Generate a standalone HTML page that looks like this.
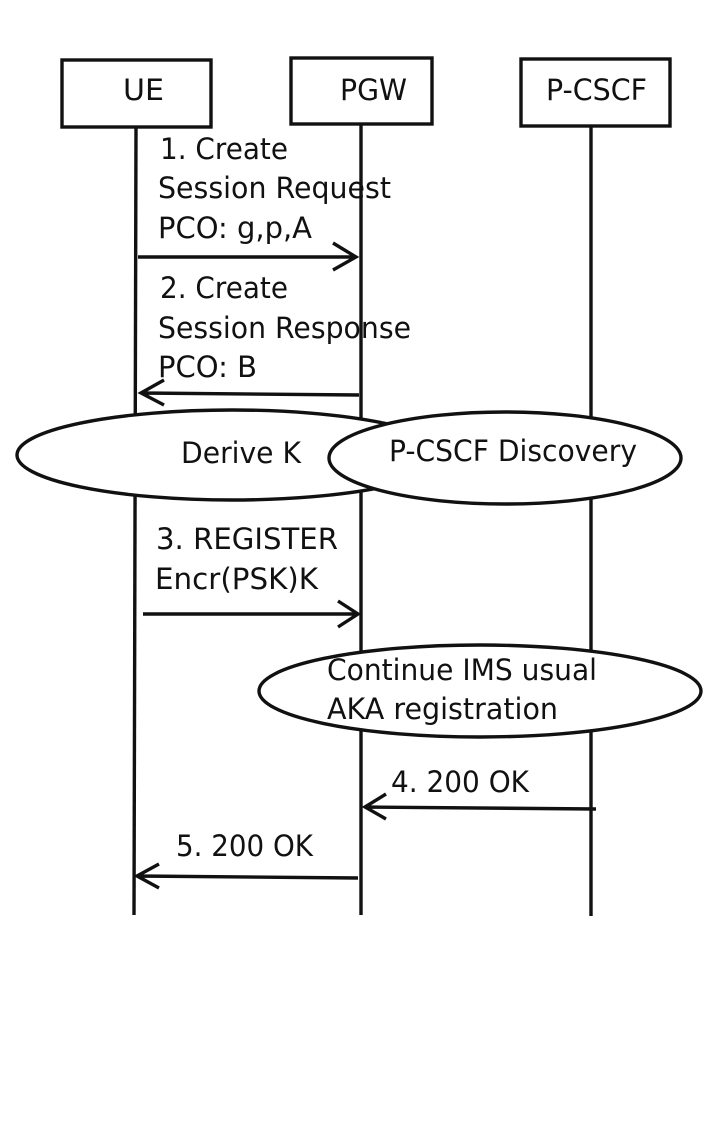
<!DOCTYPE html>
<html><head><meta charset="utf-8"><style>
html,body{margin:0;padding:0;background:#fff}
svg{display:block}
text{font-family:"DejaVu Sans","Liberation Sans",sans-serif;font-size:29px;fill:#111}
</style></head><body>
<svg width="718" height="1130" viewBox="0 0 718 1130" xmlns="http://www.w3.org/2000/svg">
<rect width="718" height="1130" fill="#fff"/>
<g fill="none" stroke="#111" stroke-width="3.4">
<line x1="136" y1="127" x2="134" y2="915"/>
<line x1="361" y1="124" x2="361" y2="915"/>
<line x1="591" y1="126" x2="591" y2="916"/>
<rect x="62" y="60" width="149" height="67" fill="#fff"/>
<rect x="291" y="58" width="141" height="66" fill="#fff"/>
<rect x="521" y="59" width="149" height="67" fill="#fff"/>
<ellipse cx="232" cy="455" rx="215" ry="45" fill="#fff"/>
<ellipse cx="505" cy="458" rx="176" ry="46" fill="#fff"/>
<ellipse cx="480" cy="691" rx="221" ry="46" fill="#fff"/>
<path d="M138 257H356M333 243L356 257L333 270"/>
<path d="M359 395L141 393M164 380L141 393L164 405"/>
<path d="M143 614H358M338 601L358 614L338 627"/>
<path d="M596 809L365 807M386 794L365 807L386 819"/>
<path d="M358 878L137 876M159 864L137 876L159 888"/>
</g>
<text x="123" y="100" textLength="41" lengthAdjust="spacingAndGlyphs">UE</text>
<text x="340" y="100" textLength="67" lengthAdjust="spacingAndGlyphs">PGW</text>
<text x="546" y="100" textLength="101" lengthAdjust="spacingAndGlyphs">P-CSCF</text>
<text x="160" y="159" textLength="128" lengthAdjust="spacingAndGlyphs">1. Create</text>
<text x="158" y="198" textLength="233" lengthAdjust="spacingAndGlyphs">Session Request</text>
<text x="158" y="238" textLength="154" lengthAdjust="spacingAndGlyphs">PCO: g,p,A</text>
<text x="160" y="298" textLength="128" lengthAdjust="spacingAndGlyphs">2. Create</text>
<text x="158" y="338" textLength="253" lengthAdjust="spacingAndGlyphs">Session Response</text>
<text x="158" y="377" textLength="99" lengthAdjust="spacingAndGlyphs">PCO: B</text>
<text x="181" y="463" textLength="120" lengthAdjust="spacingAndGlyphs">Derive K</text>
<text x="389" y="461" textLength="248" lengthAdjust="spacingAndGlyphs">P-CSCF Discovery</text>
<text x="156" y="549" textLength="182" lengthAdjust="spacingAndGlyphs">3. REGISTER</text>
<text x="155" y="589" textLength="163" lengthAdjust="spacingAndGlyphs">Encr(PSK)K</text>
<text x="327" y="680" textLength="270" lengthAdjust="spacingAndGlyphs">Continue IMS usual</text>
<text x="327" y="719" textLength="231" lengthAdjust="spacingAndGlyphs">AKA registration</text>
<text x="391" y="792" textLength="138" lengthAdjust="spacingAndGlyphs">4. 200 OK</text>
<text x="176" y="856" textLength="137" lengthAdjust="spacingAndGlyphs">5. 200 OK</text>
</svg>
</body></html>
